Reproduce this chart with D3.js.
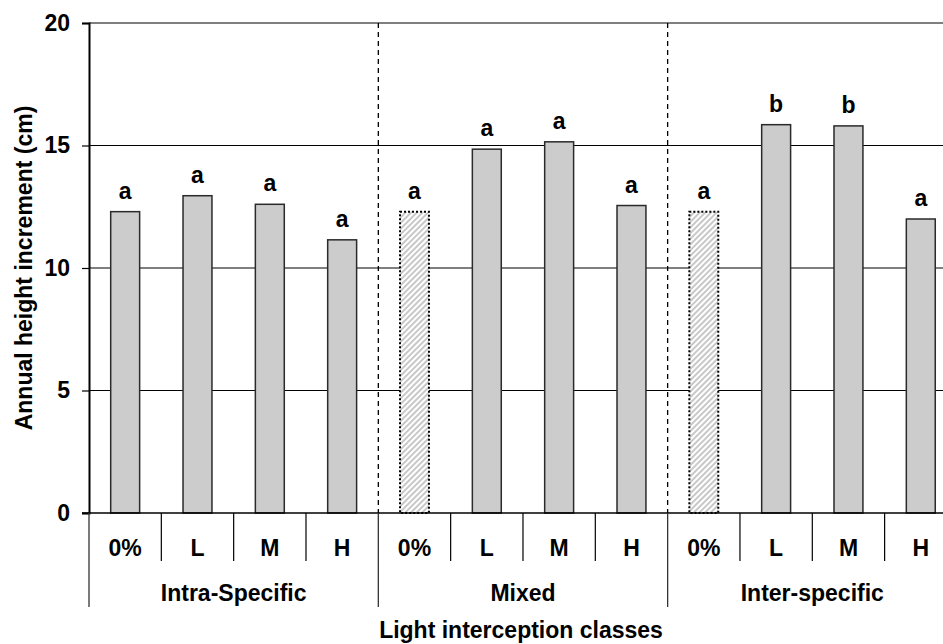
<!DOCTYPE html>
<html>
<head>
<meta charset="utf-8">
<script src="https://cdn.jsdelivr.net/npm/d3@7"></script>
<style>
  html, body { margin: 0; padding: 0; background: #fff; }
  svg { display: block; }
  text { font-family: "Liberation Sans", Arial, sans-serif; font-weight: bold; fill: #000; }
</style>
</head>
<body>
<svg id="chart" width="943" height="644"></svg>
<script>
// Treatment groups and light interception classes
const groups = ["Intra-Specific", "Mixed", "Inter-specific"];
const classes = ["0%", "L", "M", "H"];

// Annual height increment (cm) per class, one array per group
const intraValues = [12.3, 12.95, 12.6, 11.15];
const mixedValues = [12.3, 14.85, 15.15, 12.55];
const interValues = [12.3, 15.85, 15.8, 12.0];

// Significance letters per class, one array per group
const intraLetters = ["a", "a", "a", "a"];
const mixedLetters = ["a", "a", "a", "a"];
const interLetters = ["a", "b", "b", "a"];

// Reference (0%) bars in the mixed and inter-specific groups are drawn hatched
const hatched = [false, true, true];

const yTicks = [0, 5, 10, 15, 20];

const groupValues = [intraValues, mixedValues, interValues];
const groupLetters = [intraLetters, mixedLetters, interLetters];

const rows = [];
groups.forEach((g, gi) => {
  classes.forEach((c, ci) => {
    rows.push({
      key: g + "|" + c,
      group: g,
      cls: c,
      value: groupValues[gi][ci],
      letter: groupLetters[gi][ci],
      hatched: hatched[gi] && ci === 0
    });
  });
});

const FS = 23;
const svg = d3.select("#chart");
const margin = { left: 89, top: 23 };
const bandW = 72.33;
const plotW = bandW * rows.length;
const zeroY = 513;

const x = d3.scaleBand()
  .domain(rows.map(d => d.key))
  .range([margin.left, margin.left + plotW])
  .paddingInner(0).paddingOuter(0);

const y = d3.scaleLinear().domain([0, 20]).range([zeroY, margin.top]);

// Hatch pattern for the reference bars
const defs = svg.append("defs");
const pat = defs.append("pattern")
  .attr("id", "hatch")
  .attr("patternUnits", "userSpaceOnUse")
  .attr("width", 4).attr("height", 4)
  .attr("patternTransform", "rotate(45)");
pat.append("rect").attr("width", 4).attr("height", 4).attr("fill", "#ffffff");
pat.append("rect").attr("width", 2).attr("height", 4).attr("fill", "#c8c8c8");

// Horizontal gridlines (including the top border at 20)
svg.append("g")
  .selectAll("line")
  .data(yTicks.filter(t => t > 0))
  .join("line")
  .attr("x1", margin.left).attr("x2", 943)
  .attr("y1", d => y(d)).attr("y2", d => y(d))
  .attr("stroke", "#000").attr("stroke-width", 1.2);

// Dashed separators between groups
const groupBounds = groups.map((g, gi) => x(rows[gi * classes.length].key));
svg.append("g")
  .selectAll("line")
  .data(groupBounds.slice(1))
  .join("line")
  .attr("x1", d => d).attr("x2", d => d)
  .attr("y1", margin.top).attr("y2", zeroY)
  .attr("stroke", "#000").attr("stroke-width", 1.3)
  .attr("stroke-dasharray", "5,4");

// Bars
const barW = x.bandwidth() * 0.4;
svg.append("g")
  .selectAll("rect")
  .data(rows)
  .join("rect")
  .attr("x", d => x(d.key) + (x.bandwidth() - barW) / 2)
  .attr("y", d => y(d.value))
  .attr("width", barW)
  .attr("height", d => zeroY - y(d.value))
  .attr("fill", d => d.hatched ? "url(#hatch)" : "#cccccc")
  .attr("stroke", d => d.hatched ? "#000" : "#2a2a2a")
  .attr("stroke-width", d => d.hatched ? 2 : 1.5)
  .attr("stroke-dasharray", d => d.hatched ? "2,2" : null);

// Significance letters
svg.append("g")
  .selectAll("text")
  .data(rows)
  .join("text")
  .attr("x", d => x(d.key) + x.bandwidth() / 2)
  .attr("y", d => y(d.value) - 13)
  .attr("text-anchor", "middle")
  .attr("font-size", FS)
  .text(d => d.letter);

// Y axis
const yAxis = d3.axisLeft(y).tickValues(yTicks).tickSize(7).tickPadding(12);
const ya = svg.append("g")
  .attr("transform", `translate(${margin.left},0)`)
  .call(yAxis);
ya.select(".domain").attr("stroke", "#000").attr("stroke-width", 2);
ya.selectAll(".tick line").attr("stroke", "#000").attr("stroke-width", 1.2);
ya.selectAll(".tick text")
  .attr("font-size", FS)
  .attr("font-family", "Liberation Sans, Arial, sans-serif")
  .attr("font-weight", "bold")
  .attr("fill", "#000");

// Baseline
svg.append("line")
  .attr("x1", margin.left - 7).attr("x2", 943)
  .attr("y1", zeroY).attr("y2", zeroY)
  .attr("stroke", "#000").attr("stroke-width", 1.5);

// Category boundaries below the axis
const catBounds = rows.map(d => x(d.key)).concat([margin.left + plotW]);
svg.append("g")
  .selectAll("line")
  .data(catBounds.filter((d, i) => i % classes.length !== 0))
  .join("line")
  .attr("x1", d => d).attr("x2", d => d)
  .attr("y1", zeroY).attr("y2", 561)
  .attr("stroke", "#000").attr("stroke-width", 1.2);

// Group boundaries below the axis
svg.append("g")
  .selectAll("line")
  .data(catBounds.filter((d, i) => i % classes.length === 0))
  .join("line")
  .attr("x1", d => d).attr("x2", d => d)
  .attr("y1", zeroY).attr("y2", 607)
  .attr("stroke", "#333").attr("stroke-width", 1.3);

// Class labels
svg.append("g")
  .selectAll("text")
  .data(rows)
  .join("text")
  .attr("x", d => x(d.key) + x.bandwidth() / 2)
  .attr("y", 556)
  .attr("text-anchor", "middle")
  .attr("font-size", FS)
  .text(d => d.cls);

// Group labels
svg.append("g")
  .selectAll("text")
  .data(groups)
  .join("text")
  .attr("x", (d, i) => groupBounds[i] + bandW * classes.length / 2)
  .attr("y", 601)
  .attr("text-anchor", "middle")
  .attr("font-size", FS)
  .text(d => d);

// Axis titles
svg.append("text")
  .attr("x", 521).attr("y", 638)
  .attr("text-anchor", "middle")
  .attr("font-size", FS)
  .text("Light interception classes");

svg.append("text")
  .attr("transform", `translate(32,${(margin.top + zeroY) / 2}) rotate(-90)`)
  .attr("text-anchor", "middle")
  .attr("font-size", FS)
  .text("Annual height increment (cm)");
</script>
</body>
</html>
